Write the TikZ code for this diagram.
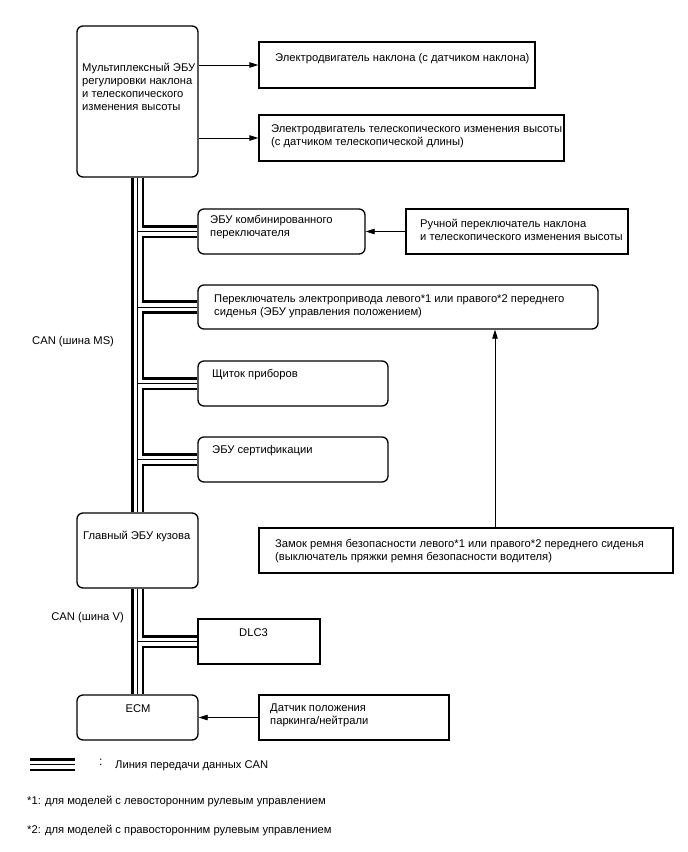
\documentclass[tikz,border=0pt]{standalone}
\usepackage{fontspec}
\setmainfont{Liberation Sans}
\usetikzlibrary{arrows.meta,backgrounds}
\newcommand{\canbus}[1]{\draw[busA] #1; \draw[busB] #1; \draw[busC] #1;}
\begin{document}
\begin{tikzpicture}[x=1pt,y=-1pt,
 rbox/.style={draw, line width=1.3pt, rounded corners=6pt, fill=white, inner sep=0pt},
 sbox/.style={draw, line width=1.3pt, fill=white, inner sep=0pt},
 txt/.style={inner sep=0pt, anchor=north west, align=left, font=\fontsize{11.2}{13}\selectfont},
 arr/.style={line width=0.8pt, -{Triangle[length=9pt,width=5.5pt]}},
 busA/.style={line width=13.5pt, black},
 busB/.style={line width=8pt, white},
 busC/.style={line width=0.9pt, black}]
\useasboundingbox (0,0) rectangle (688,852);

% boxes
\node[rbox, minimum width=121pt, minimum height=151pt] (ecu) at (137.5,101.5) {};
\node[sbox, minimum width=276pt, minimum height=46pt] (tilt) at (397,65) {};
\node[sbox, minimum width=305pt, minimum height=46pt] (tele) at (411.5,138) {};
\node[rbox, minimum width=167pt, minimum height=45pt] (comb) at (281.5,231.5) {};
\node[sbox, minimum width=222pt, minimum height=45pt] (manual) at (517,231.5) {};
\node[rbox, minimum width=400pt, minimum height=44pt] (seat) at (398,307) {};
\node[rbox, minimum width=190pt, minimum height=45pt] (meter) at (293,383.5) {};
\node[rbox, minimum width=190pt, minimum height=45pt] (cert) at (293,459.5) {};
\node[rbox, minimum width=121pt, minimum height=75pt] (body) at (137.5,550.5) {};
\node[sbox, minimum width=414pt, minimum height=45pt] (buckle) at (466,550.5) {};
\node[sbox, minimum width=122pt, minimum height=45pt] (dlc) at (259,641.5) {};
\node[rbox, minimum width=121pt, minimum height=45pt] (ecm) at (137.5,717.5) {};
\node[sbox, minimum width=190pt, minimum height=45pt] (pnp) at (354,717.5) {};

% texts
\node[txt] (tecu) at (82,63) {Мультиплексный ЭБУ\\регулировки наклона\\и телескопического\\изменения высоты};
\node[txt] (ttilt) at (275,53) {Электродвигатель наклона (с датчиком наклона)};
\node[txt] (ttele) at (271,124) {Электродвигатель телескопического изменения высоты\\(с датчиком телескопической длины)};
\node[txt] (tcomb) at (210,215) {ЭБУ комбинированного\\переключателя};
\node[txt] (tmanual) at (420,219) {Ручной переключатель наклона\\и телескопического изменения высоты};
\node[txt] (tseat) at (214,294) {Переключатель электропривода левого*1 или правого*2 переднего\\сиденья (ЭБУ управления положением)};
\node[txt] (tmeter) at (212,369) {Щиток приборов};
\node[txt] (tcert) at (212,445) {ЭБУ сертификации};
\node[txt] (tbody) at (83,531) {Главный ЭБУ кузова};
\node[txt] (tbuckle) at (275,539) {Замок ремня безопасности левого*1 или правого*2 переднего сиденья\\(выключатель пряжки ремня безопасности водителя)};
\node[txt] (tdlc) at (239,628) {DLC3};
\node[txt, anchor=north] (tecm) at (138,704) {ECM};
\node[txt] (tpnp) at (270,704) {Датчик положения\\паркинга/нейтрали};
\node[txt] (lms) at (32,336) {CAN (шина MS)};
\node[txt, anchor=north east] (lv) at (124,612) {CAN (шина V)};
\node[txt, font=\fontsize{12}{13}\selectfont] (lcolon) at (99,759) {:};
\node[txt] (llegend) at (115,760) {Линия передачи данных CAN};
\node[txt] (fn1) at (27,796) {*1: для моделей с левосторонним рулевым управлением};
\node[txt] (fn2) at (27,825) {*2: для моделей с правосторонним рулевым управлением};

% arrows
\draw[arr] (ecu.east |- tilt.west) -- (tilt.west);
\draw[arr] (ecu.east |- tele.west) -- (tele.west);
\draw[arr] (manual.west) -- (comb.east |- manual.west);
\draw[arr] ([xshift=29pt]buckle.north) coordinate (bt) -- (bt |- seat.south);
\draw[arr] (pnp.west) -- (ecm.east |- pnp.west);

% CAN bus
\coordinate (lg1) at (30,764.5);
\coordinate (lg2) at (75,764.5);
\begin{scope}[on background layer]
\fill[white] (0,0) rectangle (688,852);
\canbus{(ecu.south) -- (body.north) (ecu.south |- comb.west) -- (comb.west) (ecu.south |- seat.west) -- (seat.west) (ecu.south |- meter.west) -- (meter.west) (ecu.south |- cert.west) -- (cert.west)}
\canbus{(body.south) -- (ecm.north) (body.south |- dlc.west) -- (dlc.west)}
\end{scope}
\canbus{(lg1) -- (lg2)}
\end{tikzpicture}
\end{document}
